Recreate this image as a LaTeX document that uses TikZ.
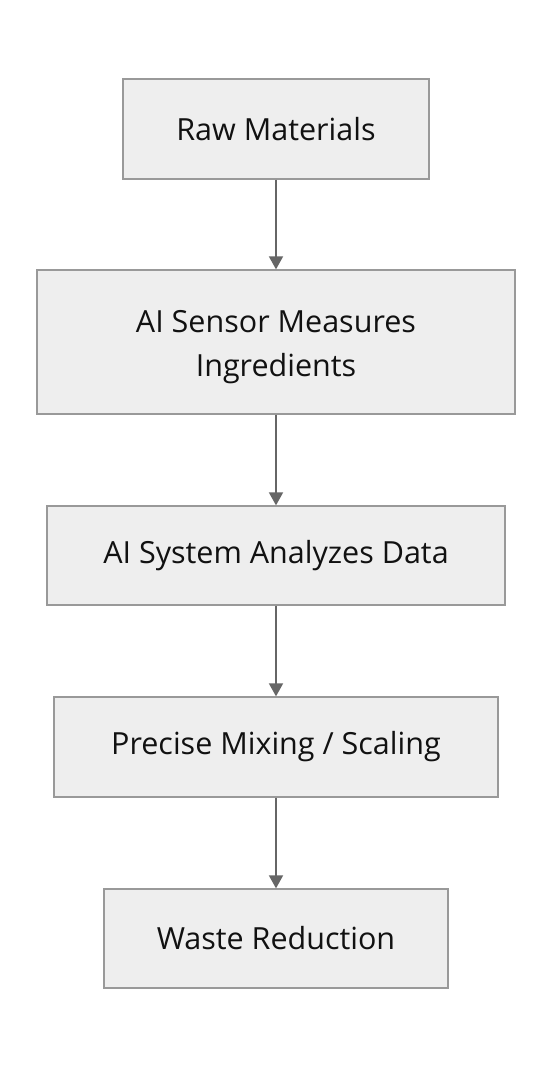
\documentclass[tikz,border=0pt]{standalone}
\usepackage{fontspec}
\setmainfont{Open Sans}
\usetikzlibrary{arrows.meta}
\definecolor{boxfill}{HTML}{EEEEEE}
\definecolor{boxline}{HTML}{999999}
\definecolor{arrowc}{HTML}{666666}
\definecolor{textc}{HTML}{111111}
\tikzset{
  stepbox/.style={draw=boxline, fill=boxfill, line width=1.3pt, inner sep=0pt, align=center,
    text=textc, font=\fontsize{30.5}{44}\selectfont},
  steptext/.style={inner sep=0pt, align=center, text=textc, font=\fontsize{30.5}{44}\selectfont},
  flow/.style={draw=arrowc, line width=1.8pt, -{Triangle[length=13pt,width=14pt]}}
}
\begin{document}
\begin{tikzpicture}[x=1pt,y=-1pt]
\useasboundingbox (0,0) rectangle (552,1068);
\node[stepbox, minimum width=306pt, minimum height=100pt] (a) at (276,129) {Raw Materials};
\node[stepbox, minimum width=478pt, minimum height=144pt] (b) at (276,342) {};
\node[steptext] (bt) at ([yshift=-5pt]b.center) {AI Sensor Measures\\Ingredients};
\node[stepbox, minimum width=458pt, minimum height=99pt] (c) at (276,555.5) {AI System Analyzes Data};
\node[stepbox, minimum width=444pt, minimum height=100pt] (d) at (276,747) {Precise Mixing / Scaling};
\node[stepbox, minimum width=344pt, minimum height=99pt] (e) at (276,938.5) {Waste Reduction};
\draw[flow] (a) -- (b);
\draw[flow] (b) -- (c);
\draw[flow] (c) -- (d);
\draw[flow] (d) -- (e);
\end{tikzpicture}
\end{document}
